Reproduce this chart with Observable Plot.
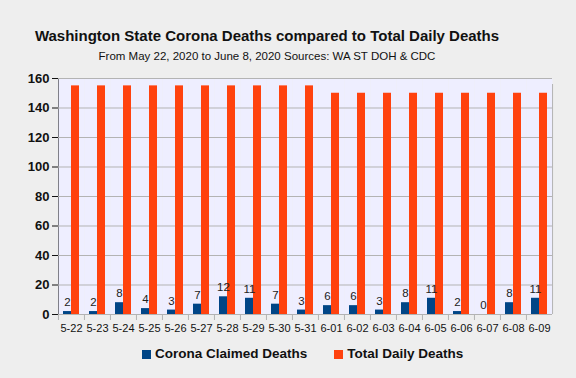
<!DOCTYPE html>
<html>
<head>
<meta charset="utf-8">
<script src="https://cdn.jsdelivr.net/npm/d3@7"></script>
<script src="https://cdn.jsdelivr.net/npm/@observablehq/plot@0.6"></script>
<style>
  html, body { margin: 0; padding: 0; background: #eeeeee; }
  #wrap { position: relative; width: 576px; height: 378px; background: #eeeeee; font-family: "Liberation Sans", Arial, sans-serif; overflow: hidden; }
  #title { position: absolute; left: 0; width: 534px; top: 27px; text-align: center; font-weight: bold; font-size: 15px; line-height: 18px; color: #111; }
  #subtitle { position: absolute; left: 0; width: 534px; top: 49px; text-align: center; font-size: 11.5px; line-height: 14px; color: #111; }
  #chart { position: absolute; left: 0; top: 65px; }
  #legend { position: absolute; left: 142px; top: 345px; display: flex; gap: 27px; font-weight: bold; font-size: 13.5px; line-height: 18px; color: #111; }
  #legend .item { display: flex; align-items: center; gap: 4px; }
  #legend .sw { width: 9px; height: 9px; display: inline-block; }
  .c [aria-label^="y-axis"] text { font-weight: bold; font-size: 13px; fill: #111; }
  .c [aria-label^="fx-axis"] text { font-size: 11px; fill: #111; }
</style>
</head>
<body>
<div id="wrap">
  <div id="title">Washington State Corona Deaths compared to Total Daily Deaths</div>
  <div id="subtitle">From May 22, 2020 to June 8, 2020 Sources: WA ST DOH &amp; CDC</div>
  <div id="chart"></div>
  <div id="legend"></div>
</div>
<script>
const dates = ["5-22","5-23","5-24","5-25","5-26","5-27","5-28","5-29","5-30","5-31","6-01","6-02","6-03","6-04","6-05","6-06","6-07","6-08","6-09"];
const coronaDeaths = [2,2,8,4,3,7,12,11,7,3,6,6,3,8,11,2,0,8,11];
const totalDeaths = [155,155,155,155,155,155,155,155,155,155,150,150,150,150,150,150,150,150,150];
const seriesNames = ["Corona Claimed Deaths", "Total Daily Deaths"];
const seriesColors = ["#004586", "#ff420e"];
const yTicks = [0,20,40,60,80,100,120,140,160];

const rows = dates.flatMap((d, i) => [
  {date: d, series: seriesNames[0], value: coronaDeaths[i]},
  {date: d, series: seriesNames[1], value: totalDeaths[i]}
]);

const W = 576, mL = 57, mR = 23;
const band = (W - mL - mR) / dates.length;

const chart = Plot.plot({
  className: "c",
  width: W,
  height: 274,
  marginLeft: mL,
  marginRight: mR,
  marginTop: 13,
  marginBottom: 25,
  style: {background: "transparent", fontFamily: "Liberation Sans, Arial, sans-serif", color: "#111"},
  facet: {data: rows, x: "date", marginBottom: 25},
  fx: {domain: dates, padding: 0, label: null, tickSize: 0, tickPadding: 10, axis: "bottom"},
  x: {domain: seriesNames, paddingInner: 0, paddingOuter: 0.53, axis: null},
  y: {domain: [0, 160], ticks: yTicks, label: null, tickSize: 6, tickPadding: 3, line: true},
  color: {domain: seriesNames, range: seriesColors},
  marks: [
    Plot.frame({fill: "#eeeeff", stroke: null}),
    Plot.ruleY(yTicks, {stroke: "#b3b3b3", strokeWidth: 1}),
    Plot.barY(rows, {x: "series", y: "value", fill: "series"}),
    Plot.text(rows, {filter: d => d.series === seriesNames[0], x: "series", y: "value", text: d => String(d.value), dy: -9, fontSize: 11.5, fill: "#222"}),
    Plot.ruleX(rows, {filter: d => d.series === seriesNames[0], x: null, y1: 0, y2: 0, insetBottom: -6, dx: -band / 2, stroke: "#b3b3b3"}),
    Plot.ruleX(rows, {filter: d => d.series === seriesNames[0] && d.date === dates[dates.length - 1], x: null, y1: 0, y2: 160, insetBottom: -6, dx: band / 2, stroke: "#b3b3b3"})
  ]
});
document.getElementById("chart").appendChild(chart);

const legend = document.getElementById("legend");
seriesNames.forEach((name, i) => {
  const item = document.createElement("div");
  item.className = "item";
  const sw = document.createElement("span");
  sw.className = "sw";
  sw.style.background = seriesColors[i];
  const label = document.createElement("span");
  label.textContent = name;
  item.appendChild(sw);
  item.appendChild(label);
  legend.appendChild(item);
});
</script>
</body>
</html>
